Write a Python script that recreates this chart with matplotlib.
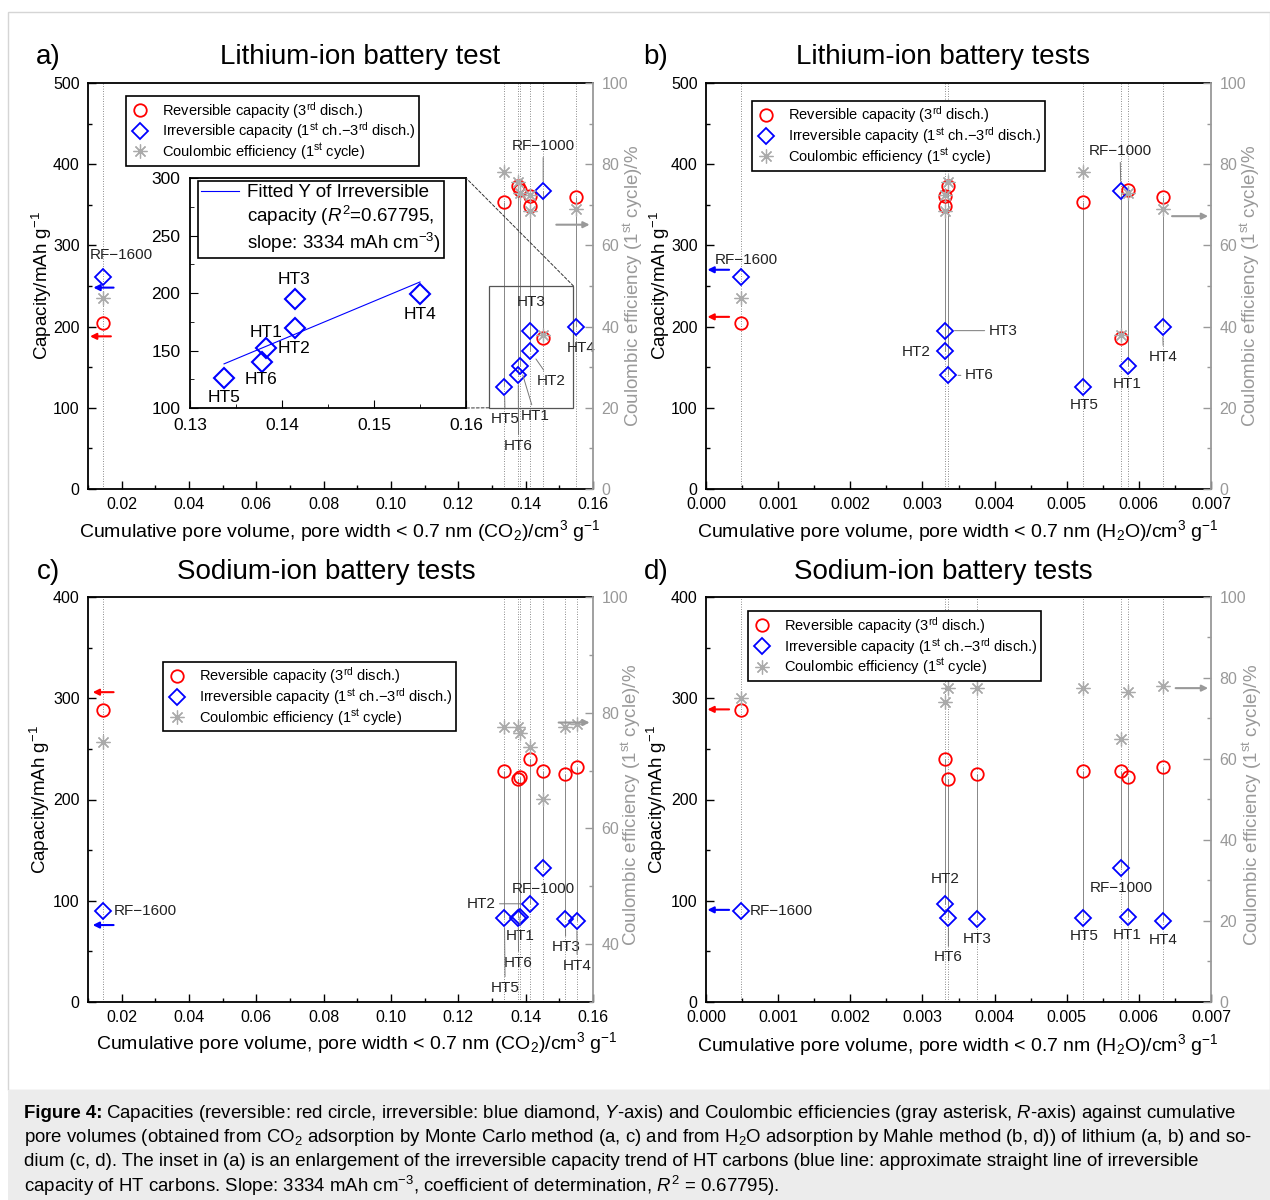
import numpy as np
import matplotlib
matplotlib.use("Agg")
import matplotlib.pyplot as plt
from matplotlib.lines import Line2D
from matplotlib.patches import Rectangle, ConnectionPatch
from matplotlib.ticker import MultipleLocator, FormatStrFormatter

plt.rcParams['font.family'] = ['Liberation Sans', 'DejaVu Sans']
plt.rcParams['mathtext.fontset'] = 'custom'
plt.rcParams['mathtext.rm'] = 'Liberation Sans'
plt.rcParams['mathtext.it'] = 'Liberation Sans:italic'
plt.rcParams['mathtext.bf'] = 'Liberation Sans:bold'

# samples and pore volumes (cm3/g)
samples = ["RF−1600", "HT1", "HT2", "HT3", "HT4", "HT5", "HT6", "RF−1000"]
co2_li = [0.0145, 0.1383, 0.1414, 0.1414, 0.1550, 0.1337, 0.1378, 0.1452]
co2_na = [0.0145, 0.1383, 0.1414, 0.1518, 0.1552, 0.1337, 0.1378, 0.1452]
h2o_li = [0.00048, 0.00585, 0.00331, 0.00331, 0.00633, 0.00523, 0.00336, 0.00575]
h2o_na = [0.00048, 0.00585, 0.00331, 0.00376, 0.00633, 0.00523, 0.00336, 0.00575]

# lithium: capacities (mAh/g) and coulombic efficiency (%)
li_rev = [205, 368, 361, 349, 359, 354, 373, 186]
li_irr = [261, 152, 170, 195, 199, 126, 140, 367]
li_ce = [47, 73, 72.5, 68.5, 69, 78, 75.5, 38]

# sodium
na_rev = [288, 222, 240, 225, 232, 228, 220, 228]
na_irr = [90, 84, 97, 82, 80, 83, 83, 132]
na_ce = [75, 76.5, 74, 77.5, 78, 77.5, 77.5, 65]

RED, BLUE, GRAY, RGRAY = '#ff0000', '#0000ff', '#aaaaaa', '#999999'
AST = (8, 2, 0)

W, H = 1270, 1200
fig = plt.figure(figsize=(12.7, 12), dpi=100)


def box(l, t, r, b):
    return [l / W, 1 - b / H, (r - l) / W, (b - t) / H]


leg_labels = [r"Reversible capacity (3$^{\rm rd}$ disch.)",
              r"Irreversible capacity (1$^{\rm st}$ ch.$-$3$^{\rm rd}$ disch.)",
              r"Coulombic efficiency (1$^{\rm st}$ cycle)"]
leg_handles = [Line2D([], [], ls='none', marker='o', ms=9, mfc='none', mec=RED, mew=1.3),
               Line2D([], [], ls='none', marker='D', ms=8, mfc='none', mec=BLUE, mew=1.3),
               Line2D([], [], ls='none', marker=AST, ms=10, mec=GRAY, mew=0.9)]


def panel(rect, xv, rev, irr, ce, xlim, xmaj, xfmt, ylim, rlim, labels, arrows, legpos):
    ax = fig.add_axes(box(*rect))
    ax2 = ax.twinx()
    for xi in sorted(set(xv)):
        ax.axvline(xi, color='#666666', ls=(0, (1, 2)), lw=0.6, zorder=1)
    # thin connectors between the two capacities of each sample (not RF-1600)
    ax.vlines(xv[1:], np.minimum(rev, irr)[1:], np.maximum(rev, irr)[1:],
              color='#888888', lw=0.7, zorder=1)
    ax.plot(xv, rev, ls='none', marker='o', ms=9, mfc='none', mec=RED, mew=1.3, zorder=4)
    ax.plot(xv, irr, ls='none', marker='D', ms=8, mfc='none', mec=BLUE, mew=1.3, zorder=4)
    ax2.plot(xv, ce, ls='none', marker=AST, ms=10, mec=GRAY, mew=0.9, zorder=2)

    ax.set_xlim(*xlim)
    ax.set_ylim(*ylim)
    ax2.set_ylim(*rlim)
    ax.xaxis.set_major_locator(MultipleLocator(xmaj))
    ax.xaxis.set_minor_locator(MultipleLocator(xmaj / 2))
    ax.xaxis.set_major_formatter(FormatStrFormatter(xfmt))
    ax.yaxis.set_major_locator(MultipleLocator(100))
    ax.yaxis.set_minor_locator(MultipleLocator(50))
    ax2.yaxis.set_major_locator(MultipleLocator(20))
    ax2.yaxis.set_minor_locator(MultipleLocator(10))
    ax.tick_params(which='both', direction='in', top=False, right=False, labelsize=11.5, pad=6)
    ax.tick_params(which='major', length=6, width=1)
    ax.tick_params(which='minor', length=3, width=1)
    ax2.tick_params(which='both', direction='in', colors=RGRAY, labelsize=11.5, pad=6)
    ax2.tick_params(which='major', length=6, width=1)
    ax2.tick_params(which='minor', length=3, width=1)
    for s in ['left', 'top', 'bottom']:
        ax.spines[s].set_linewidth(1.3)
        ax2.spines[s].set_visible(False)
    ax.spines['right'].set_visible(False)
    ax2.spines['right'].set_color(RGRAY)
    ax2.spines['right'].set_linewidth(1.3)

    for name, (tx, ty, ha, lead) in labels.items():
        i = samples.index(name)
        ap = dict(arrowstyle='-', color='#777777', lw=0.7, shrinkA=1, shrinkB=7) if lead else None
        ax.annotate(name, xy=(xv[i], irr[i]), xytext=(tx, ty), ha=ha, va='center',
                    fontsize=11, color='#222222', arrowprops=ap, zorder=5)

    for x0, x1, y, col, on_right in arrows:
        a = ax2 if on_right else ax
        a.annotate("", xy=(x1, y), xytext=(x0, y),
                   arrowprops=dict(arrowstyle='-|>', color=col, lw=1.5, mutation_scale=9,
                                   shrinkA=0, shrinkB=0))

    leg = ax2.legend(leg_handles, leg_labels, loc='upper left', bbox_to_anchor=legpos,
                     fontsize=10.5, frameon=True, fancybox=False, edgecolor='black',
                     framealpha=1, borderpad=0.25, labelspacing=0.0, handletextpad=0.8,
                     handlelength=1.4, borderaxespad=0)
    leg.get_frame().set_linewidth(1.2)
    return ax, ax2


lab_a = {"RF−1600": (0.0199, 288, "center", False), "RF−1000": (0.1452, 422, "center", True),
         "HT3": (0.1416, 230, "center", False), "HT4": (0.1564, 174, "center", False),
         "HT2": (0.1476, 133, "center", True), "HT5": (0.1339, 86, "center", True),
         "HT1": (0.1428, 90, "center", True), "HT6": (0.1379, 53, "center", True)}
lab_b = {"RF−1600": (0.00056, 282, "center", False), "RF−1000": (0.00574, 416, "center", True),
         "HT3": (0.00392, 195, "left", True), "HT2": (0.00311, 169, "right", False),
         "HT6": (0.00359, 140, "left", True), "HT5": (0.00524, 103, "center", False),
         "HT1": (0.00584, 129, "center", False), "HT4": (0.00634, 163, "center", True)}
lab_c = {"RF−1600": (0.0176, 90, "left", False), "HT2": (0.1310, 97, "right", True),
         "RF−1000": (0.1452, 112, "center", False), "HT1": (0.1383, 65, "center", True),
         "HT6": (0.1379, 39, "center", True), "HT5": (0.1339, 14, "center", True),
         "HT3": (0.1519, 54, "center", True), "HT4": (0.1553, 36, "center", True)}
lab_d = {"RF−1600": (0.0006, 90, "left", False), "HT2": (0.00332, 121, "center", False),
         "HT6": (0.00336, 44, "center", True), "HT3": (0.00376, 62, "center", False),
         "HT5": (0.00524, 65, "center", False), "RF−1000": (0.00575, 113, "center", False),
         "HT1": (0.00584, 66, "center", False), "HT4": (0.00634, 61, "center", False)}

ax_a, _ = panel((88, 83, 593, 489), co2_li, li_rev, li_irr, li_ce, (0.01, 0.16), 0.02, '%.2f',
                (0, 500), (0, 100), lab_a,
                [(0.0168, 0.0106, 188, RED, False), (0.0176, 0.0116, 248, BLUE, False),
                 (0.1491, 0.1590, 65.1, '#999999', True)], (0.075, 0.968))
ax_b, _ = panel((706, 83, 1211, 489), h2o_li, li_rev, li_irr, li_ce, (0, 0.007), 0.001, '%.3f',
                (0, 500), (0, 100), lab_b,
                [(0.00032, 0.00002, 212, RED, False), (0.00032, 0.00002, 270, BLUE, False),
                 (0.00646, 0.00696, 67.2, '#999999', True)], (0.091, 0.956))
ax_c, _ = panel((88, 597, 593, 1002), co2_na, na_rev, na_irr, na_ce, (0.01, 0.16), 0.02, '%.2f',
                (0, 400), (30, 100), lab_c,
                [(0.0176, 0.0114, 306, RED, False), (0.0176, 0.0114, 76, BLUE, False),
                 (0.1498, 0.1590, 78.3, '#999999', True)], (0.149, 0.84))
ax_d, _ = panel((706, 597, 1211, 1002), h2o_na, na_rev, na_irr, na_ce, (0, 0.007), 0.001, '%.3f',
                (0, 400), (0, 100), lab_d,
                [(0.00032, 0.00002, 289, RED, False), (0.00032, 0.00002, 91, BLUE, False),
                 (0.00651, 0.00696, 77.5, '#999999', True)], (0.083, 0.965))

# inset of panel a: HT carbons only, with linear fit
ht = [i for i, s in enumerate(samples) if s.startswith("HT")]
ht_x = np.array([co2_li[i] for i in ht])
ht_y = np.array([li_irr[i] for i in ht])
slope, icpt = np.polyfit(ht_x, ht_y, 1)
fx = np.array([ht_x.min(), ht_x.max()])

ax_in = fig.add_axes(box(190, 178, 466, 408))
ax_in.plot(fx, slope * fx + icpt, color=BLUE, lw=0.8)
ax_in.plot(ht_x, ht_y, ls='none', marker='D', ms=10, mfc='none', mec=BLUE, mew=1.5)
ax_in.set_xlim(0.13, 0.16)
ax_in.set_ylim(100, 300)
ax_in.xaxis.set_major_locator(MultipleLocator(0.01))
ax_in.xaxis.set_minor_locator(MultipleLocator(0.005))
ax_in.yaxis.set_major_locator(MultipleLocator(50))
ax_in.yaxis.set_minor_locator(MultipleLocator(25))
ax_in.xaxis.set_major_formatter(FormatStrFormatter('%.2f'))
ax_in.tick_params(which='both', direction='in', labelsize=12.5, pad=7)
ax_in.tick_params(which='major', length=6)
ax_in.tick_params(which='minor', length=3)
for s in ax_in.spines.values():
    s.set_linewidth(1.3)
lab_in = {"HT3": (0.1413, 212), "HT1": (0.1383, 166), "HT2": (0.1413, 152),
          "HT6": (0.1377, 125), "HT5": (0.1337, 109), "HT4": (0.1550, 181)}
for name, (tx, ty) in lab_in.items():
    ax_in.text(tx, ty, name, ha='center', va='center', fontsize=12.5)
in_leg = ax_in.legend([Line2D([], [], color=BLUE, lw=0.8), Line2D([], [], color='none'),
                       Line2D([], [], color='none')],
                      ["Fitted Y of Irreversible", r"capacity ($\mathit{R}^2$=0.67795,",
                       r"slope: 3334 mAh cm$^{-3}$)"],
                      loc='upper left', bbox_to_anchor=(0.03, 0.985), fontsize=13.5,
                      frameon=True, fancybox=False, edgecolor='black', framealpha=1,
                      borderpad=0.15, labelspacing=0.15, handlelength=2.0, handletextpad=0.45,
                      borderaxespad=0)
in_leg.get_frame().set_linewidth(1.2)

ax_a.add_patch(Rectangle((0.1291, 100), 0.0251, 150, fill=False, ec='#555555', lw=0.9, zorder=3))
for (px, py), (qx, qy) in [((0.1542, 250), (1, 1)), ((0.1291, 100), (1, 0))]:
    cp = ConnectionPatch(xyA=(px, py), coordsA='data', axesA=ax_a,
                         xyB=(qx, qy), coordsB='axes fraction', axesB=ax_in,
                         ls=(0, (3, 2)), lw=0.7, color='#333333')
    fig.add_artist(cp)

# titles and panel letters
for letter, lx, tx, y, title in [("a)", 48, 360, 57, "Lithium-ion battery test"),
                                 ("b)", 656, 943, 57, "Lithium-ion battery tests"),
                                 ("c)", 48, 326, 572, "Sodium-ion battery tests"),
                                 ("d)", 656, 943, 572, "Sodium-ion battery tests")]:
    fig.text(lx / W, 1 - y / H, letter, fontsize=20, ha='center', va='center')
    fig.text(tx / W, 1 - y / H, title, fontsize=20, ha='center', va='center')

ylab = r"Capacity/mAh g$^{-1}$"
rlab = r"Coulombic efficiency (1$^{\rm st}$ cycle)/%"
xco2 = r"Cumulative pore volume, pore width < 0.7 nm (CO$_2$)/cm$^3$ g$^{-1}$"
xh2o = r"Cumulative pore volume, pore width < 0.7 nm (H$_2$O)/cm$^3$ g$^{-1}$"
for x, y, t, col in [(42, 286, ylab, 'black'), (660, 286, ylab, 'black'),
                     (40, 800, ylab, 'black'), (657, 800, ylab, 'black'),
                     (633, 286, rlab, RGRAY), (1250, 286, rlab, RGRAY),
                     (631, 805, rlab, RGRAY), (1252, 805, rlab, RGRAY)]:
    fig.text(x / W, 1 - y / H, t, rotation=90, ha='center', va='center', fontsize=13.5,
             color=col)
for x, y, t in [(340, 531, xco2), (958, 531, xh2o), (357, 1043, xco2), (958, 1045, xh2o)]:
    fig.text(x / W, 1 - y / H, t, ha='center', va='center', fontsize=14)

# frame and caption
fig.add_artist(Rectangle((8 / W, 1 - 1090 / H), 1262 / W, 1078 / H, transform=fig.transFigure,
                         fill=False, ec='#d5d5d5', lw=1))
fig.add_artist(Rectangle((8 / W, 0), 1262 / W, 110 / H, transform=fig.transFigure,
                         fc='#ececec', ec='none'))
caption = [r"Capacities (reversible: red circle, irreversible: blue diamond, $\mathit{Y}$-axis) and Coulombic efficiencies (gray asterisk, $\mathit{R}$-axis) against cumulative",
           r"pore volumes (obtained from CO$_2$ adsorption by Monte Carlo method (a, c) and from H$_2$O adsorption by Mahle method (b, d)) of lithium (a, b) and so-",
           "dium (c, d). The inset in (a) is an enlargement of the irreversible capacity trend of HT carbons (blue line: approximate straight line of irreversible",
           r"capacity of HT carbons. Slope: 3334 mAh cm$^{-3}$, coefficient of determination, $\mathit{R}^2$ = 0.67795)."]
cap_fs = 13.4
head = fig.text(24 / W, 1 - 1114 / H, "Figure 4:", ha='left', va='center', fontsize=cap_fs,
                weight='bold')
renderer = fig.canvas.get_renderer()
x_after = head.get_window_extent(renderer).x1 + 4
for k, line in enumerate(caption):
    x0 = x_after if k == 0 else 24
    fig.text(x0 / W, 1 - (1114 + 24 * k) / H, line, ha='left', va='center', fontsize=cap_fs)

fig.savefig("out.png", dpi=100)
